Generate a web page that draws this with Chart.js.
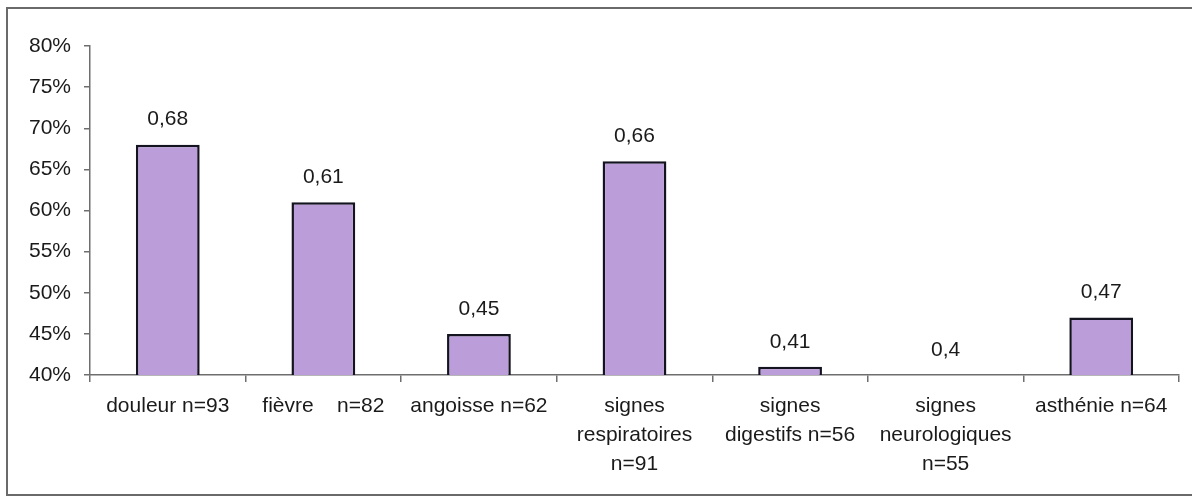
<!DOCTYPE html>
<html lang="fr">
<head>
<meta charset="utf-8">
<title>Symptômes</title>
<script src="https://cdn.jsdelivr.net/npm/chart.js@4/dist/chart.umd.min.js"></script>
<style>
  html, body { margin: 0; padding: 0; background: #ffffff; }
  #wrap { width: 1192px; height: 498px; position: relative; }
</style>
</head>
<body>
<div id="wrap"><canvas id="c" width="1192" height="498"></canvas></div>
<script>
// Categories (multi-line labels as arrays)
const categories = [
  ['douleur n=93'],
  ['fièvre    n=82'],
  ['angoisse n=62'],
  ['signes', 'respiratoires', 'n=91'],
  ['signes', 'digestifs n=56'],
  ['signes', 'neurologiques', 'n=55'],
  ['asthénie n=64']
];
// Proportion for each category
const values = [0.68, 0.61, 0.45, 0.66, 0.41, 0.4, 0.47];
// Y axis range and step
const yMin = 0.40;
const yMax = 0.80;
const yStep = 0.05;

const FONT = '"Liberation Sans", Arial, Helvetica, sans-serif';

// Outer frame around the whole figure
const framePlugin = {
  id: 'frame',
  beforeDraw(chart) {
    const ctx = chart.ctx;
    ctx.save();
    ctx.strokeStyle = '#6a6a6a';
    ctx.lineWidth = 2;
    ctx.strokeRect(7, 8, 1200, 487);
    ctx.restore();
  }
};

// Value written above each bar, decimal comma
const valueLabels = {
  id: 'valueLabels',
  afterDatasetsDraw(chart) {
    const ctx = chart.ctx;
    const meta = chart.getDatasetMeta(0);
    ctx.save();
    ctx.font = '21px ' + FONT;
    ctx.fillStyle = '#1a1a1a';
    ctx.textAlign = 'center';
    ctx.textBaseline = 'middle';
    meta.data.forEach((bar, i) => {
      const txt = String(values[i]).replace('.', ',');
      ctx.fillText(txt, bar.x, bar.y - 25);
    });
    ctx.restore();
  }
};

new Chart(document.getElementById('c'), {
  type: 'bar',
  data: {
    labels: categories,
    datasets: [{
      data: values,
      backgroundColor: '#bb9dd9',
      borderColor: '#141420',
      borderWidth: 2.5,
      borderSkipped: false,
      categoryPercentage: 1,
      barPercentage: 0.41
    }]
  },
  options: {
    responsive: false,
    animation: false,
    devicePixelRatio: 1,
    layout: { padding: { top: 46, right: 13, left: 0, bottom: 0 } },
    plugins: {
      legend: { display: false },
      tooltip: { enabled: false }
    },
    scales: {
      x: {
        grid: {
          display: true,
          drawOnChartArea: false,
          drawTicks: true,
          tickLength: 7,
          color: '#6e6e6e',
          lineWidth: 1.5,
          offset: true
        },
        border: { display: true, color: '#6e6e6e', width: 1.5 },
        ticks: {
          autoSkip: false,
          maxRotation: 0,
          minRotation: 0,
          padding: 10,
          color: '#1a1a1a',
          font: { family: FONT, size: 21, lineHeight: 1.38 }
        },
        afterFit(scale) { scale.height = 123; }
      },
      y: {
        min: yMin,
        max: yMax,
        grid: {
          display: true,
          drawOnChartArea: false,
          drawTicks: true,
          tickLength: 6,
          color: '#6e6e6e',
          lineWidth: 1.5
        },
        border: { display: true, color: '#6e6e6e', width: 1.5 },
        ticks: {
          stepSize: yStep,
          padding: 13,
          color: '#1a1a1a',
          font: { family: FONT, size: 21 },
          callback: (v) => Math.round(v * 100) + '%'
        },
        afterFit(scale) { scale.width = 90; }
      }
    }
  },
  plugins: [framePlugin, valueLabels]
});
</script>
</body>
</html>
